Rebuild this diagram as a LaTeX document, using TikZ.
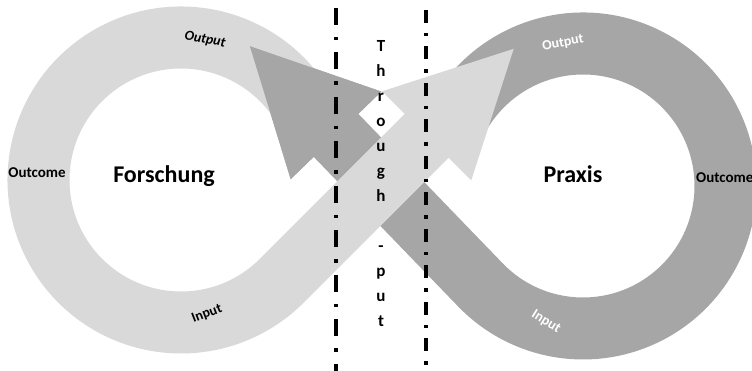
\documentclass[tikz,border=0pt]{standalone}
\usepackage{fontspec}
\setmainfont{Carlito}
\definecolor{lightband}{RGB}{217,217,217}
\definecolor{darkband}{RGB}{166,166,166}
\usetikzlibrary{calc}

\begin{document}
\begin{tikzpicture}[x=1pt, y=1pt,
  lightloop/.style={fill=lightband},
  darkloop/.style={fill=darkband},
  title/.style={font=\fontsize{24}{28}\selectfont\bfseries, inner sep=0},
  ringlabel/.style={font=\fontsize{14}{16}\selectfont\bfseries, inner sep=0},
  outcome/.style={font=\fontsize{15}{18}\selectfont\bfseries, inner sep=0},
  through/.style={font=\fontsize{17}{25}\selectfont\bfseries, align=center, inner sep=0},
  divider/.style={line width=3.5pt, dash pattern=on 17pt off 12pt on 3.5pt off 12pt},
  divider2/.style={line width=3.5pt, dash pattern=on 13pt off 10pt on 3.5pt off 10pt}]
\useasboundingbox (0,0) rectangle (752,371);
\coordinate (forsch) at (181,191);
\coordinate (prax) at (583,185);
\coordinate (lmid) at ($(forsch)+(315:142.5)$);
\coordinate (dmid) at ($(prax)+(224:142.5)$);
\coordinate (ltip) at ($(lmid)+(45:328)$);
\coordinate (lneck) at ($(lmid)+(45:205)$);
\coordinate (dtip) at ($(dmid)+(134:332)$);
\coordinate (dneck) at ($(dmid)+(134:208)$);

\fill[darkloop] ($(prax)+(152:173.5)$) arc[start angle=152, end angle=-136, radius=173.5]
  -- ($(dneck)+(224:31)$) -- ($(dneck)+(224:63)$) -- (dtip) -- ($(dneck)+(44:63)$) -- ($(dneck)+(44:31)$)
  -- ($(prax)+(224:111.5)$) arc[start angle=-136, end angle=152, radius=111.5] -- cycle;
\fill[lightloop] ($(forsch)+(32:173.5)$) arc[start angle=32, end angle=315, radius=173.5]
  -- ($(lneck)+(-45:31)$) -- ($(lneck)+(-45:63)$) -- (ltip) -- ($(lneck)+(135:63)$) -- ($(lneck)+(135:31)$)
  -- ($(forsch)+(315:111.5)$) arc[start angle=315, end angle=32, radius=111.5] -- cycle;
\fill[darkloop] ($(dneck)+(224:31)$) -- ($(dneck)+(224:63)$) -- (dtip) -- ($(dneck)+(44:63)$) -- ($(dneck)+(44:31)$) -- cycle;

\draw[divider] (336,363) -- (336,0);
\draw[divider2] (426,361) -- (426,0);

\node[title, anchor=base] (forschung) at (164,188) {Forschung};
\node[title, anchor=base] (praxis) at (573,188) {Praxis};
\node[ringlabel, rotate=-10] (lout) at (205,331) {\itshape Output};
\node[ringlabel, rotate=21] (lin) at (207,57) {Input};
\node[ringlabel, text=white, rotate=10] (rout) at (563,328) {Output};
\node[ringlabel, text=white, rotate=-32] (rin) at (546,49) {Input};
\node[outcome] (lcome) at (37,198) {Outcome};
\node[outcome, anchor=west] (rcome) at (696,193) {Outcome};
\node[through, anchor=north] (thru) at (381,331) {T\\h\\r\\o\\u\\g\\h\\[25pt]-\\p\\u\\t};
\end{tikzpicture}
\end{document}
